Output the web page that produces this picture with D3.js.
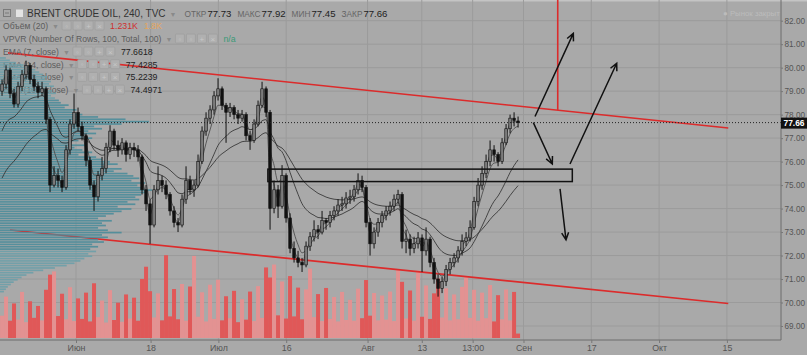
<!DOCTYPE html>
<html>
<head>
<meta charset="utf-8">
<script src="https://cdn.jsdelivr.net/npm/d3@7"></script>
<style>
  html, body { margin: 0; padding: 0; background: #a9a9a9; overflow: hidden; }
  svg { display: block; font-family: "Liberation Sans", Arial, sans-serif; }
</style>
</head>
<body>
<div id="chart"></div>
<script>
// Brent 2018, half-day-ish bars: [open, high, low, close]
const candles = [
  [79.0,79.5,78.8,79.3],[79.3,80.1,79.1,79.9],[79.9,80.0,78.7,78.9],[78.9,79.1,78.3,78.45],
  [78.45,79.4,78.3,79.2],[79.2,79.9,79.0,79.7],[79.7,80.3,79.5,80.1],[80.1,80.2,79.3,79.5],
  [79.5,79.7,79.0,79.2],[79.2,79.4,78.7,78.95],[78.95,79.4,78.8,79.1],[79.1,79.2,77.6,77.8],
  [77.8,77.9,74.7,75.0],[75.0,75.8,74.9,75.4],[75.4,75.7,74.9,75.2],[75.2,75.4,74.7,74.9],
  [74.9,76.7,74.8,76.5],[76.5,77.8,76.3,77.6],[77.6,78.9,77.4,78.1],[78.1,78.3,77.3,77.5],
  [77.5,77.7,76.9,77.1],[77.1,77.2,75.8,76.05],[76.05,76.2,74.8,75.0],[75.0,75.2,73.9,74.5],
  [74.5,75.6,74.3,75.4],[75.4,76.2,75.2,75.7],[75.7,76.8,75.5,76.6],[76.6,77.55,76.4,77.3],
  [77.3,77.4,76.5,76.7],[76.7,76.9,76.2,76.5],[76.5,77.0,76.3,76.8],[76.8,76.9,76.0,76.3],
  [76.3,76.8,76.1,76.6],[76.6,76.8,76.2,76.5],[76.5,76.7,76.0,76.2],[76.2,76.3,74.6,74.8],
  [74.8,75.0,73.9,74.2],[74.2,74.4,72.5,73.3],[73.3,75.0,73.2,74.8],[74.8,75.8,74.6,75.2],
  [75.2,75.4,74.7,75.0],[75.0,75.2,74.4,74.6],[74.6,74.7,73.7,73.9],[73.9,74.1,73.2,73.4],
  [73.4,73.6,73.0,73.3],[73.3,74.6,73.2,74.4],[74.4,75.8,74.2,75.2],[75.2,75.4,74.6,74.8],
  [74.8,75.2,74.5,75.0],[75.0,76.3,74.9,76.0],[76.0,77.5,75.9,77.3],[77.3,78.1,77.1,77.85],
  [77.85,78.4,77.6,78.2],[78.2,79.0,78.0,78.8],[78.8,79.55,78.6,79.1],[79.1,79.2,78.2,78.4],
  [78.4,78.5,76.8,78.1],[78.1,78.5,77.9,78.3],[78.3,78.4,77.8,78.0],[78.0,78.2,77.6,77.85],
  [77.85,78.2,77.7,78.0],[78.0,78.1,76.9,77.1],[77.1,77.3,76.5,76.9],[76.9,77.8,76.8,77.6],
  [77.6,78.6,77.5,78.4],[78.4,79.4,78.3,79.1],[79.1,79.2,77.9,78.1],[78.1,78.2,73.1,74.0],
  [74.0,75.2,73.8,74.8],[74.8,75.0,73.6,74.1],[74.1,75.85,74.0,75.4],[75.4,75.5,73.4,73.6],
  [73.6,73.8,72.1,72.3],[72.3,72.6,71.7,71.9],[71.9,72.2,71.5,71.7],[71.7,71.9,71.3,71.6],
  [71.6,72.6,71.5,72.4],[72.4,73.0,72.2,72.8],[72.8,73.5,72.6,73.1],[73.1,73.3,72.7,73.0],
  [73.0,73.9,72.9,73.5],[73.5,73.6,73.1,73.4],[73.4,73.9,73.2,73.7],[73.7,74.1,73.5,73.9],
  [73.9,74.4,73.7,74.15],[74.15,74.5,73.9,74.2],[74.2,74.7,74.0,74.45],[74.45,74.8,74.2,74.5],
  [74.5,75.0,74.3,74.8],[74.8,75.5,74.6,75.2],[75.2,75.4,74.7,74.9],[74.9,75.0,73.2,73.4],
  [73.4,73.6,72.0,72.5],[72.5,73.2,72.3,73.0],[73.0,73.6,72.8,73.4],[73.4,73.9,73.2,73.7],
  [73.7,74.1,73.5,73.9],[73.9,74.3,73.7,74.1],[74.1,74.6,73.9,74.4],[74.4,74.8,74.2,74.6],
  [74.6,74.7,72.3,72.6],[72.6,73.1,72.1,72.7],[72.7,72.9,72.0,72.3],[72.3,72.8,72.1,72.5],
  [72.5,73.0,72.3,72.75],[72.75,72.9,71.3,72.2],[72.2,73.2,72.0,72.7],[72.7,72.8,71.5,71.7],
  [71.7,71.9,70.8,71.0],[71.0,71.2,70.25,70.6],[70.6,71.1,70.4,70.9],[70.9,71.6,70.7,71.4],
  [71.4,71.9,71.2,71.7],[71.7,72.1,71.5,71.9],[71.9,72.4,71.7,72.2],[72.2,72.9,72.0,72.6],
  [72.6,73.0,72.4,72.75],[72.75,73.5,72.6,73.2],[73.2,74.5,73.1,74.3],[74.3,75.3,74.1,75.0],
  [75.0,75.8,74.8,75.5],[75.5,76.3,75.3,76.0],[76.0,76.9,75.8,76.5],[76.5,76.7,76.0,76.3],
  [76.3,76.4,75.8,76.0],[76.0,77.0,75.9,76.8],[76.8,77.6,76.7,77.4],[77.4,78.0,77.2,77.85],
  [77.85,78.1,77.5,77.75],[77.73,77.92,77.45,77.66]
];

// volume per bar, thousands
const volumes = [
  6.2,11.5,4.8,9.6,5.1,12.8,4.4,10.2,5.6,8.9,
  4.9,13.4,17.6,18.5,6.1,12.3,5.2,14.1,4.7,11.0,
  5.3,12.6,4.6,15.2,5.8,10.4,4.3,13.3,5.0,9.8,
  4.5,12.1,5.4,11.2,4.8,16.4,19.8,13.0,5.7,12.4,
  4.9,23.0,6.0,13.6,5.2,15.0,4.8,14.3,22.8,5.9,
  12.7,4.6,14.8,5.3,16.2,4.9,11.6,5.5,13.1,4.4,
  10.8,5.1,12.9,4.7,14.4,5.6,19.6,16.8,20.4,6.3,
  15.7,5.4,17.2,6.0,14.0,5.2,13.5,19.3,5.8,12.2,
  4.7,13.9,5.3,11.4,4.6,12.8,5.0,10.6,4.8,13.7,
  5.5,16.1,6.2,12.5,4.9,11.8,5.1,12.9,4.7,18.9,
  15.6,5.4,13.2,4.8,18.7,5.9,14.6,5.3,12.4,16.5,
  5.7,13.8,4.9,12.1,5.2,14.2,16.9,5.6,13.4,4.8,
  12.6,5.5,14.7,4.6,11.9,5.2,13.5,4.9,12.8,1.231
];

// VPVR, 100 rows from top price to bottom price
const vpHigh = 80.45, vpLow = 70.40;
const volumeProfile = [
  6,10,16,24,30,36,
  40,44,48,46,52,50,55,48,53,57,52,56,60,
  62,70,66,78,74,84,
  100,128,152,124,96,
  104,90,98,86,94,
  80,70,88,76,84,94,80,98,104,
  112,120,106,124,116,130,
  136,142,134,148,140,146,155,150,144,138,142,
  130,138,120,134,124,116,
  108,100,114,104,108,100,110,124,104,
  110,100,106,94,100,92,98,90,94,86,
  82,76,68,56,44,34,27,
  22,18,14,11,8,6,4
];
const valueArea = [72.2, 78.6];

// time axis (trading days from 1 June)
const firstBarDay = -10.91, barStepDays = 0.59;
const tickDays = [0, 11, 21, 31, 43, 51, 58.5, 66, 76, 86, 96];
const tickLabels = ['Июн', '18', 'Июл', '16', 'Авг', '13', '13:00', 'Сен', '17', 'Окт', '15'];
const priceTicks = [69, 70, 71, 72, 73, 74, 75, 76, 77, 78, 79, 80, 81, 82];

// EMAs (periods rescaled to the coarser bars)
const emaNames = ['EMA (7, close)', 'EMA (14, close)', 'EMA (50, close)', 'EMA (100, close)'];
const emaValues = ['77.6618', '77.4285', '75.2239', '74.4971'];
const emaPeriods = [2, 4, 14, 28];
const emaSeeds = [79.0, 79.0, 77.0, 75.0];

// drawings: [day, price]
const redLines = [
  [[-10.03, 80.63], [96.2, 77.43]],
  [[-9.73, 73.09], [96.2, 69.96]],
  [[71.05, 82.9], [71.05, 78.2]]
];
const zone = [[28.3, 75.68], [73.2, 75.15]];
const arrows = [
  [[67.7, 77.92], [73.35, 81.46]],
  [[67.45, 77.66], [70.25, 75.90]],
  [[72.86, 75.90], [79.75, 80.19]],
  [[71.39, 74.84], [72.27, 72.67]]
];

const W = 807, H = 355, plotR = 781, plotB = 340;
const bg = '#a9a9a9', grid = '#9b9b9b', red = '#dc2b2b';

const x = d3.scaleLinear().domain([-11.21, 103.98]).range([0, plotR]);
const y = d3.scaleLinear().domain([69, 82]).range([326, 20.7]);
const vy = d3.scaleLinear().domain([0, 25]).range([338, 248]);
const vpx = d3.scaleLinear().domain([0, d3.max(volumeProfile)]).range([0, 152]);
const barDay = i => firstBarDay + i * barStepDays;

const svg = d3.select('#chart').append('svg').attr('width', W).attr('height', H);
svg.append('rect').attr('width', W).attr('height', H).attr('fill', bg);
svg.append('rect').attr('width', W).attr('height', 1.5).attr('fill', '#c4c4c4');

svg.append('clipPath').attr('id', 'plot')
  .append('rect').attr('width', plotR).attr('height', plotB);

// grid
const g = svg.append('g').attr('clip-path', 'url(#plot)');
g.selectAll('.hg').data(priceTicks).enter().append('line')
  .attr('x1', 0).attr('x2', plotR).attr('y1', d => y(d)).attr('y2', d => y(d))
  .attr('stroke', grid).attr('stroke-width', 1);
g.selectAll('.vg').data(tickDays).enter().append('line')
  .attr('x1', d => x(d)).attr('x2', d => x(d)).attr('y1', 0).attr('y2', plotB)
  .attr('stroke', grid).attr('stroke-width', 1);

// volume
g.selectAll('.vol').data(volumes).enter().append('rect')
  .attr('x', (d, i) => x(barDay(i)) - 2)
  .attr('width', 4)
  .attr('y', d => vy(d))
  .attr('height', d => vy(0) - vy(d))
  .attr('fill', (d, i) => candles[i][3] >= candles[i][0] ? '#e39292' : '#e05858');

// red trend lines
g.selectAll('.tl').data(redLines).enter().append('line')
  .attr('x1', d => x(d[0][0])).attr('y1', d => y(d[0][1]))
  .attr('x2', d => x(d[1][0])).attr('y2', d => y(d[1][1]))
  .attr('stroke', red).attr('stroke-width', 1.6);

// indicator legend rows (VPVR draws over part of them)
function iconsAt(sel, x0, yb) {
  for (let k = 0; k < 4; k++) {
    sel.append('rect').attr('x', x0 + k * 11).attr('y', yb - 8).attr('width', 9).attr('height', 9)
      .attr('rx', 1).attr('fill', '#b0b0b0').attr('stroke', '#9e9e9e').attr('stroke-width', 0.8);
  }
  const gl = ['◦', '◦', '+', '×'];
  gl.forEach((t, k) => sel.append('text').attr('x', x0 + k * 11 + 4.5).attr('y', yb - 0.5)
    .attr('text-anchor', 'middle').attr('font-size', 8).attr('fill', '#c8c8c8').text(t));
}
function legendRow(yb, name, values) {
  const row = svg.append('g');
  const t = row.append('text').attr('x', 3).attr('y', yb).attr('font-size', 8.6)
    .attr('fill', '#5c5c5c').text(name);
  const w = t.node().getComputedTextLength();
  row.append('text').attr('x', 3 + w + 4).attr('y', yb).attr('font-size', 7)
    .attr('fill', '#8a8a8a').text('▼');
  const ix = 3 + w + 14;
  iconsAt(row, ix, yb);
  let vx = ix + 48;
  values.forEach(v => {
    const vt = row.append('text').attr('x', vx).attr('y', yb).attr('font-size', 8.8)
      .attr('fill', v.c).text(v.t);
    vx += vt.node().getComputedTextLength() + 6;
  });
}
legendRow(29, 'Объём (20)', [{ t: '1.231K', c: '#cf2f2f' }, { t: '1.8K', c: '#e6a55a' }]);
legendRow(42, 'VPVR (Number Of Rows, 100, Total, 100)', [{ t: 'n/a', c: '#3b9a78' }]);
emaNames.forEach((n, i) => legendRow(55 + i * 12.7, n, [{ t: emaValues[i], c: '#222' }]));

// volume profile
const rowH = (vpHigh - vpLow) / volumeProfile.length;
svg.append('g').selectAll('rect').data(volumeProfile).enter().append('rect')
  .attr('x', 0)
  .attr('y', (d, i) => y(vpHigh - i * rowH))
  .attr('height', (d, i) => y(vpHigh - (i + 1) * rowH) - y(vpHigh - i * rowH) - 0.7)
  .attr('width', d => vpx(d))
  .attr('fill', (d, i) => {
    const p = vpHigh - (i + 0.5) * rowH;
    return p >= valueArea[0] && p <= valueArea[1] ? '#4b8c9a' : '#6c9ea8';
  })
  .attr('opacity', 0.9);

// EMAs
const closes = candles.map(c => c[3]);
function ema(vals, n, seed) {
  const a = 2 / (n + 1);
  let e = seed;
  return vals.map(v => (e = e + a * (v - e)));
}
const lineGen = d3.line().x((d, i) => x(barDay(i))).y(d => y(d)).curve(d3.curveMonotoneX);
const cg = svg.append('g').attr('clip-path', 'url(#plot)');
emaPeriods.forEach((p, k) => {
  cg.append('path').datum(ema(closes, p, emaSeeds[k]))
    .attr('d', lineGen).attr('fill', 'none')
    .attr('stroke', k < 2 ? '#4a4a4a' : '#333').attr('stroke-width', 1).attr('opacity', 0.85);
});

// candles
const cd = cg.selectAll('.c').data(candles).enter().append('g');
cd.append('line')
  .attr('x1', (d, i) => x(barDay(i))).attr('x2', (d, i) => x(barDay(i)))
  .attr('y1', d => y(d[1])).attr('y2', d => y(d[2]))
  .attr('stroke', '#111').attr('stroke-width', 1);
cd.append('rect')
  .attr('x', (d, i) => x(barDay(i)) - 1.3).attr('width', 2.6)
  .attr('y', d => y(Math.max(d[0], d[3])))
  .attr('height', d => Math.max(1, Math.abs(y(d[0]) - y(d[3]))))
  .attr('fill', d => d[3] >= d[0] ? '#7c7c7c' : '#111')
  .attr('stroke', '#111').attr('stroke-width', 0.6);

// zone rectangle
cg.append('rect')
  .attr('x', x(zone[0][0])).attr('y', y(zone[0][1]))
  .attr('width', x(zone[1][0]) - x(zone[0][0]))
  .attr('height', y(zone[1][1]) - y(zone[0][1]))
  .attr('fill', 'none').attr('stroke', '#111').attr('stroke-width', 1.5);

// arrows
arrows.forEach(a => {
  const x1 = x(a[0][0]), y1 = y(a[0][1]), x2 = x(a[1][0]), y2 = y(a[1][1]);
  const ang = Math.atan2(y2 - y1, x2 - x1);
  const ah = 8, spread = 0.45;
  const p = d3.path();
  p.moveTo(x1, y1); p.lineTo(x2, y2);
  p.moveTo(x2 - ah * Math.cos(ang - spread), y2 - ah * Math.sin(ang - spread));
  p.lineTo(x2, y2);
  p.lineTo(x2 - ah * Math.cos(ang + spread), y2 - ah * Math.sin(ang + spread));
  cg.append('path').attr('d', p.toString()).attr('fill', 'none')
    .attr('stroke', '#111').attr('stroke-width', 1.5).attr('stroke-linejoin', 'miter');
});

// last price line
const last = candles[candles.length - 1];
svg.append('line').attr('x1', 0).attr('x2', plotR)
  .attr('y1', y(last[3])).attr('y2', y(last[3]))
  .attr('stroke', '#222').attr('stroke-width', 1).attr('stroke-dasharray', '1,2');

// axes
const yAxis = svg.append('g').attr('transform', `translate(${plotR},0)`)
  .call(d3.axisRight(y).tickValues(priceTicks).tickFormat(d3.format('.2f')).tickSize(2).tickPadding(1.5));
const xAxis = svg.append('g').attr('transform', `translate(0,${plotB})`)
  .call(d3.axisBottom(x).tickValues(tickDays).tickFormat((d, i) => tickLabels[i]).tickSize(3).tickPadding(2));
[yAxis, xAxis].forEach(ax => {
  ax.select('.domain').attr('stroke', '#6c6c6c');
  ax.selectAll('.tick line').attr('stroke', '#777');
  ax.selectAll('text').attr('fill', '#555')
    .attr('font-family', '"Liberation Sans", Arial, sans-serif');
});
yAxis.selectAll('text').attr('font-size', 8.2);
xAxis.selectAll('text').attr('font-size', 8.8);
yAxis.select('.domain').attr('d', `M0,0V${plotB}`);
xAxis.select('.domain').attr('d', `M0,0H${plotR}`);

// last price label
svg.append('rect').attr('x', plotR).attr('y', y(last[3]) - 5).attr('width', W - plotR).attr('height', 11)
  .attr('fill', '#111');
svg.append('text').attr('x', plotR + 2.5).attr('y', y(last[3]) + 3.4).attr('font-size', 8.4)
  .attr('font-weight', 'bold').attr('fill', '#fff').text(last[3].toFixed(2));

// header
svg.append('rect').attr('x', 3.5).attr('y', 9.5).attr('width', 7).attr('height', 7)
  .attr('fill', 'none').attr('stroke', '#7a7a7a');
svg.append('line').attr('x1', 5).attr('x2', 9).attr('y1', 13).attr('y2', 13).attr('stroke', '#7a7a7a');
svg.append('rect').attr('x', 16).attr('y', 9.5).attr('width', 7).attr('height', 7.5).attr('fill', '#e4e4e4');
const head = svg.append('text').attr('x', 27).attr('y', 17.3);
head.append('tspan').attr('font-size', 10).attr('fill', '#333').text('BRENT CRUDE OIL, 240, TVC');
head.append('tspan').attr('dx', 4).attr('font-size', 7).attr('fill', '#8a8a8a').text('▼');
const headLabels = ['ОТКР', 'МАКС', 'МИН', 'ЗАКР'];
headLabels.forEach((l, i) => {
  head.append('tspan').attr('dx', i === 0 ? 8 : 6).attr('font-size', 8.3).attr('fill', '#666').text(l);
  head.append('tspan').attr('dx', 1).attr('font-size', 9.6).attr('fill', '#222').text(last[i].toFixed(2));
});
svg.append('text').attr('x', 723).attr('y', 15.5).attr('font-size', 7.8).attr('fill', '#bcbcbc')
  .text('● Рынок закрыт');
</script>
</body>
</html>
